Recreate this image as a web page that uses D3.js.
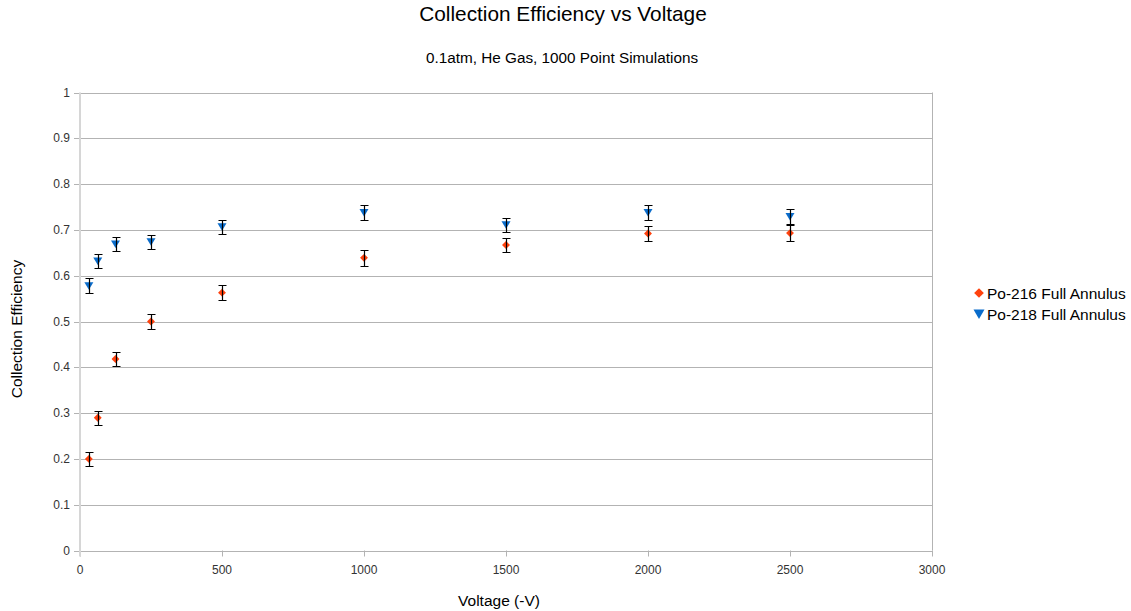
<!DOCTYPE html>
<html>
<head>
<meta charset="utf-8">
<script src="https://cdn.jsdelivr.net/npm/d3@7"></script>
<style>
  body { margin: 0; background: #fff; }
  svg { font-family: "Liberation Sans", Arial, sans-serif; }
</style>
</head>
<body>
<script>
// Data
var voltages = [31.25, 62.5, 125, 250, 500, 1000, 1500, 2000, 2500];
var po216 = [0.200, 0.290, 0.418, 0.500, 0.563, 0.639, 0.667, 0.692, 0.693];
var po216Err = [0.015, 0.015, 0.016, 0.017, 0.016, 0.017, 0.016, 0.016, 0.017];
var po218 = [0.578, 0.632, 0.669, 0.674, 0.707, 0.738, 0.711, 0.738, 0.729];
var po218Err = [0.016, 0.016, 0.016, 0.015, 0.015, 0.017, 0.016, 0.017, 0.016];
var xTicks = [0, 500, 1000, 1500, 2000, 2500, 3000];
var yTicks = [0, 0.1, 0.2, 0.3, 0.4, 0.5, 0.6, 0.7, 0.8, 0.9, 1];

var width = 1131, height = 611;
var plotL = 80, plotR = 932, plotT = 92.5, plotB = 550.5;

var svg = d3.select("body").append("svg")
    .attr("width", width)
    .attr("height", height);

var x = d3.scaleLinear().domain([0, 3000]).range([plotL, plotR]);
var y = d3.scaleLinear().domain([0, 1]).range([plotB, plotT]);

// gridlines
svg.append("g").selectAll("line")
    .data(yTicks)
  .enter().append("line")
    .attr("x1", plotL - 6).attr("x2", plotR)
    .attr("y1", function(d) { return Math.round(y(d)) + 0.5; })
    .attr("y2", function(d) { return Math.round(y(d)) + 0.5; })
    .attr("stroke", "#b3b3b3");

// right frame line
svg.append("line")
    .attr("x1", plotR + 0.5).attr("x2", plotR + 0.5)
    .attr("y1", plotT).attr("y2", plotB)
    .attr("stroke", "#b3b3b3");

// x ticks
svg.append("g").selectAll("line")
    .data(xTicks)
  .enter().append("line")
    .attr("x1", function(d) { return Math.round(x(d)) + 0.5; })
    .attr("x2", function(d) { return Math.round(x(d)) + 0.5; })
    .attr("y1", plotB).attr("y2", plotB + 6)
    .attr("stroke", "#b3b3b3");

// y axis line
svg.append("line")
    .attr("x1", plotL).attr("x2", plotL)
    .attr("y1", plotT).attr("y2", plotB + 6)
    .attr("stroke", "#d6d6d6")
    .attr("stroke-width", 2);

// tick labels
svg.append("g").selectAll("text")
    .data(yTicks)
  .enter().append("text")
    .attr("x", plotL - 10)
    .attr("y", function(d) { return y(d) + 4; })
    .attr("text-anchor", "end")
    .attr("font-size", 12)
    .attr("fill", "#333")
    .text(function(d) { return d3.format("")(+d.toFixed(1)); });

svg.append("g").selectAll("text")
    .data(xTicks)
  .enter().append("text")
    .attr("x", function(d) { return x(d); })
    .attr("y", plotB + 23)
    .attr("text-anchor", "middle")
    .attr("font-size", 12)
    .attr("fill", "#333")
    .text(function(d) { return d; });

// titles
svg.append("text")
    .attr("x", 563).attr("y", 21)
    .attr("text-anchor", "middle")
    .attr("font-size", 20.8)
    .attr("fill", "#000")
    .text("Collection Efficiency vs Voltage");

svg.append("text")
    .attr("x", 562).attr("y", 63)
    .attr("text-anchor", "middle")
    .attr("font-size", 15.3)
    .attr("fill", "#000")
    .text("0.1atm, He Gas, 1000 Point Simulations");

svg.append("text")
    .attr("x", 499).attr("y", 606)
    .attr("text-anchor", "middle")
    .attr("font-size", 15.5)
    .text("Voltage (-V)");

svg.append("text")
    .attr("transform", "translate(22,329) rotate(-90)")
    .attr("text-anchor", "middle")
    .attr("font-size", 15.5)
    .text("Collection Efficiency");

var orange = "#ff420e", blue = "#0a6ccb";
var diamond = d3.symbol().type(d3.symbolDiamond2).size(40);
var triangle = "M-4.5,-3.5 L4.5,-3.5 L0,4 Z";
var bigDiamond = d3.symbol().type(d3.symbolDiamond2).size(60);
var bigTriangle = "M-5.5,-4.5 L5.5,-4.5 L0,5 Z";

function drawSeries(vals, errs, shape, color) {
  var g = svg.append("g");
  var pts = g.selectAll("g")
      .data(voltages.map(function(v, i) { return {x: v, y: vals[i], e: errs[i]}; }))
    .enter().append("g");

  pts.append("path")
      .attr("d", shape)
      .attr("fill", color)
      .attr("transform", function(d) { return "translate(" + x(d.x) + "," + y(d.y) + ")"; });

  // error bars
  pts.append("path")
      .attr("d", function(d) {
        var cx = Math.round(x(d.x)) + 0.5, t = Math.round(y(d.y + d.e)) + 0.5, b = Math.round(y(d.y - d.e)) + 0.5;
        return "M" + cx + "," + t + "V" + b +
          "M" + (cx - 4) + "," + t + "H" + (cx + 4) +
          "M" + (cx - 4) + "," + b + "H" + (cx + 4);
      })
      .attr("fill", "none")
      .attr("stroke", "#000")
      .attr("stroke-width", 1.2);
}

drawSeries(po216, po216Err, diamond, orange);
drawSeries(po218, po218Err, triangle, blue);

// legend
var legend = svg.append("g");
legend.append("path")
    .attr("d", bigDiamond)
    .attr("fill", orange)
    .attr("transform", "translate(979,293)");
legend.append("path")
    .attr("d", bigTriangle)
    .attr("fill", blue)
    .attr("transform", "translate(979,314)");
legend.append("text")
    .attr("x", 987).attr("y", 298.5)
    .attr("font-size", 15.5)
    .text("Po-216 Full Annulus");
legend.append("text")
    .attr("x", 987).attr("y", 319.5)
    .attr("font-size", 15.5)
    .text("Po-218 Full Annulus");
</script>
</body>
</html>
